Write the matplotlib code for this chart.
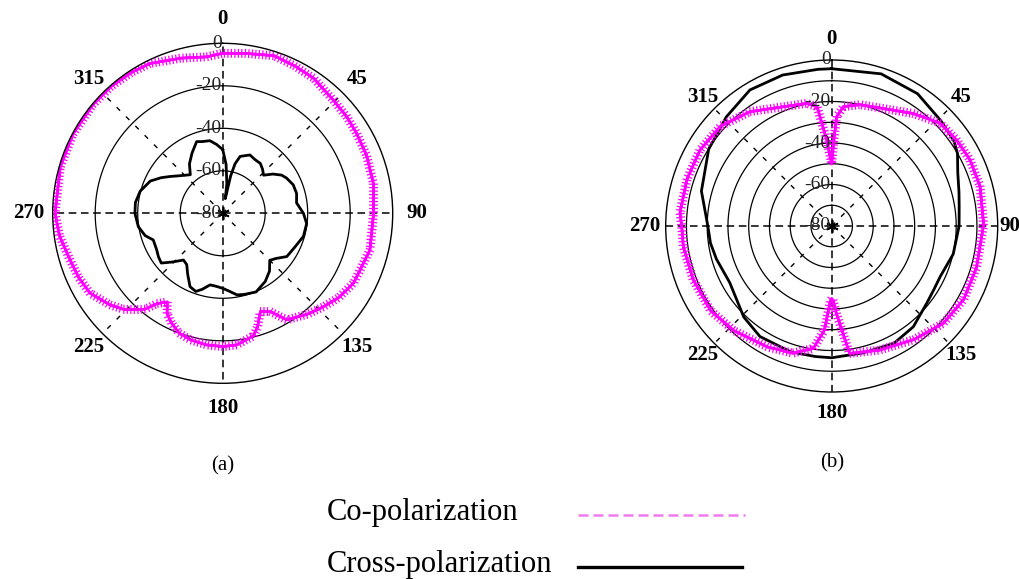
import numpy as np
import matplotlib.pyplot as plt
from matplotlib import patheffects as pe
from matplotlib import transforms
from matplotlib.lines import Line2D

plt.rcParams['font.family'] = ['Liberation Serif', 'DejaVu Serif']

# ---- (a) measured pattern, angle [deg] / level [dB]
ang_a_co = [0, 8, 18, 26, 34, 44, 52, 59, 68, 79, 90, 104, 118, 126, 133, 140, 149,
            154, 159, 163, 166, 174, 180, 187, 194, 200, 205, 209, 212, 216, 219, 222,
            226, 231, 239, 246, 253, 262, 270, 286, 298, 310, 319, 327, 334, 345, 354, 360]
db_a_co = [-4.7, -4.0, -2.0, -2.8, -3.4, -5.5, -6.0, -6.6, -7.0, -7.7, -9.0, -8.6, -10.2,
           -12.5, -15.4, -18.0, -21.5, -28.5, -30.5, -24.0, -20.5, -17.7, -17.3, -17.6,
           -18.5, -20.0, -23.0, -26.0, -30.8, -27.5, -22.0, -19.0, -15.0, -11.6, -7.1,
           -5.8, -4.9, -2.5, -1.1, -0.5, -0.3, -0.3, -0.5, -1.0, -1.6, -4.4, -6.0, -4.7]

ang_a_x = [0, 4, 8, 10, 12, 14, 17, 25, 31, 37, 42, 47, 52, 57, 61, 68, 75, 82, 90, 97,
           106, 115, 124, 130, 135, 141, 148, 157, 165, 170, 176, 180, 185, 190, 195,
           199, 204, 210, 215, 220, 226, 231, 236, 241, 249, 254, 261, 270, 277, 285,
           294, 300, 305, 312, 320, 326, 333, 340, 344, 350, 355, 360]
db_a_x = [-50, -57, -66, -73, -62, -56, -52, -49.7, -50.5, -50.6, -52, -53.7, -50, -47,
          -45.7, -44.2, -44, -44.9, -42, -40.2, -40.5, -42.5, -43.6, -47, -48.7, -45,
          -42.2, -39.8, -40.5, -41, -43.5, -44.7, -45.5, -45.8, -43, -41.1, -42.2, -47,
          -50.5, -51.3, -47, -42.8, -43.5, -44.5, -45, -42, -39.8, -38.7, -38.6, -39.8,
          -42.7, -46.5, -49.8, -53.5, -56.3, -52, -48.2, -44.1, -44.9, -45.3, -47.5, -50]

# ---- (b) measured pattern
ang_b_co = [0, 1.5, 2.6, 5.6, 13, 22, 36, 46.5, 55.5, 64.5, 75, 88, 90, 106, 119, 131,
            144, 159, 172, 174, 177, 179, 180, 181, 184, 188.5, 197, 208, 223, 235,
            249, 262, 270, 275, 288, 300, 312, 324.5, 338, 348.5, 353, 356.7, 360]
db_b_co = [-50, -38, -27.3, -22.2, -20, -18.6, -13, -8, -6.9, -6.1, -6, -6.9, -6.9, -7.4,
           -7.2, -8.6, -12.4, -15.9, -18, -28, -38, -44.3, -45, -44, -29.7, -20.4,
           -15.9, -14, -11, -8.8, -8.4, -7.8, -7.7, -6.6, -6.7, -6.7, -8, -12.3, -18,
           -19.7, -22, -38.5, -50]

ang_b_x = [0, 18, 33, 46, 55, 60, 67, 75, 81, 90, 103, 115, 122, 129, 141, 152, 166,
           180, 187, 198, 213, 224, 232, 241, 254, 262, 270, 285, 302, 316, 329, 342,
           355, 360]
db_b_x = [-4.2, -2.9, -4, -6.9, -8.2, -10, -14, -16.5, -17.8, -18.6, -19.9, -22.3, -22,
          -21, -17.5, -16, -17, -16.5, -16.6, -16.2, -16.5, -19, -22, -23.8, -22.2, -21,
          -20.3, -15, -10.1, -6.9, -3.5, -3.5, -4.2, -4.2]

angle_labels = [0, 45, 90, 135, 180, 225, 270, 315]
r_labels = [0, -20, -40, -60, -80]

CO = '#ff00ff'
fuzz = [pe.withTickedStroke(spacing=2.5, angle=90, length=1.1, linewidth=0.9),
        pe.withTickedStroke(spacing=2.5, angle=-90, length=1.1, linewidth=0.9),
        pe.Normal()]


def polar_frame(ax, rings, lab_r_axis, lab_r_diag, lab_r_90=None):
    ax.set_theta_zero_location('N')
    ax.set_theta_direction(-1)
    th = np.linspace(0, 2 * np.pi, 361)
    for lv in rings:
        ax.plot(th, np.full_like(th, lv), color='k', lw=0.9, zorder=1)
    for a in range(0, 360, 90):
        ax.plot([np.deg2rad(a)] * 2, [-80, 0], color='k', lw=1.1,
                linestyle=(0, (5, 3)), zorder=1)
    for a in range(45, 360, 90):
        ax.plot([np.deg2rad(a)] * 2, [-80, 0], color='k', lw=1.0,
                linestyle=(0, (3.5, 6)), zorder=1)
    ax.plot(0, -80, marker=(6, 2, 0), color='k', ms=9, mew=1.2, zorder=3)
    ax.set_rlim(-80, 0)
    ax.set_xticks([])
    ax.set_yticks([])
    ax.grid(False)
    ax.spines['polar'].set_linewidth(1.0)
    for a in angle_labels:
        rr = lab_r_axis if a % 90 == 0 else lab_r_diag
        if a == 90 and lab_r_90 is not None:
            rr = lab_r_90
        ax.text(np.deg2rad(a), rr, str(a), ha='center', va='center', fontsize=15,
                fontweight='bold', clip_on=False)
    off = transforms.offset_copy(ax.transData, fig=ax.figure, x=-1, y=0, units='dots')
    for lv in r_labels:
        ax.text(0, lv, str(lv), ha='right', va='center', fontsize=14,
                color='#222222', transform=off, zorder=4)


fig = plt.figure(figsize=(10.19, 5.79), dpi=100)

ax1 = fig.add_axes([52.7 / 1019, 1 - 383.3 / 579, 340 / 1019, 340 / 579], projection='polar')
polar_frame(ax1, [-60, -40, -20], 11.5, 9.2)
ax1.plot(np.deg2rad(ang_a_co), db_a_co, color=CO, lw=1.8, path_effects=fuzz, zorder=2)
ax1.plot(np.deg2rad(ang_a_x), db_a_x, color='k', lw=2.0, zorder=2)
ax1.set_rlim(-80, 0)

ax2 = fig.add_axes([665.7 / 1019, 1 - 392 / 579, 332 / 1019, 332 / 579], projection='polar')
polar_frame(ax2, [-70, -60, -50, -40, -30, -20, -10], 10.0, 8.0, lab_r_90=6.0)
ax2.plot(np.deg2rad(ang_b_x), db_b_x, color='k', lw=2.0, zorder=2)
ax2.plot(np.deg2rad(ang_b_co), db_b_co, color=CO, lw=1.8, path_effects=fuzz, zorder=2)
ax2.set_rlim(-80, 0)

fig.text(223 / 1019, 1 - 466 / 579, '(a)', ha='center', va='center', fontsize=15)
fig.text(832 / 1019, 1 - 463 / 579, '(b)', ha='center', va='center', fontsize=15)

# legend drawn by hand below the two patterns
fig.text(327 / 1019, 1 - 520 / 579, 'Co-polarization', ha='left', va='baseline', fontsize=22)
fig.text(327 / 1019, 1 - 572 / 579, 'Cross-polarization', ha='left', va='baseline', fontsize=22)
fig.add_artist(Line2D([578 / 1019, 745 / 1019], [1 - 515 / 579] * 2, color='#f07af0',
                      lw=1.8, linestyle=(0, (4, 2)), transform=fig.transFigure))
fig.add_artist(Line2D([578 / 1019, 742 / 1019], [1 - 567 / 579] * 2, color='k',
                      lw=2.4, transform=fig.transFigure))

fig.savefig('out.png', dpi=100)
